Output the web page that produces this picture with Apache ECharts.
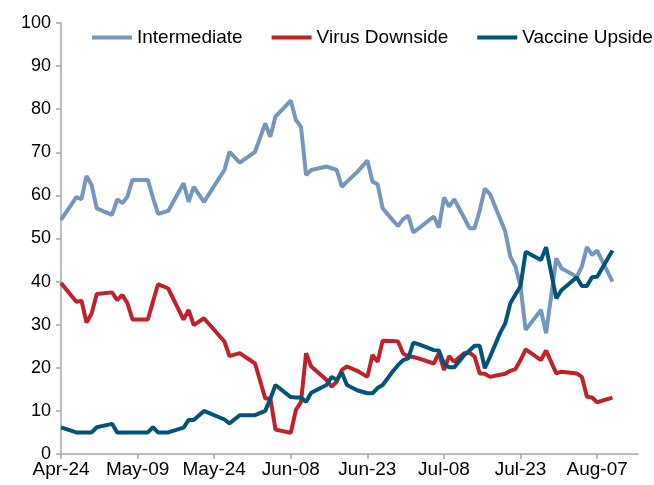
<!DOCTYPE html>
<html>
<head>
<meta charset="utf-8">
<script src="https://cdn.jsdelivr.net/npm/echarts@6/dist/echarts.min.js"></script>
<style>
  html, body { margin: 0; padding: 0; background: #fff; }
  #chart { width: 654px; height: 485px; }
</style>
</head>
<body>
<div id="chart"></div>
<script>
// poll dates (2020)
const dates = [
  '2020-04-24', '2020-04-27', '2020-04-28', '2020-04-29', '2020-04-30', '2020-05-01',
  '2020-05-04', '2020-05-05', '2020-05-06', '2020-05-07', '2020-05-08', '2020-05-11',
  '2020-05-12', '2020-05-13', '2020-05-15', '2020-05-18', '2020-05-19', '2020-05-20',
  '2020-05-22', '2020-05-26', '2020-05-27', '2020-05-29', '2020-06-01', '2020-06-03',
  '2020-06-04', '2020-06-05', '2020-06-08', '2020-06-09', '2020-06-10', '2020-06-11',
  '2020-06-12', '2020-06-15', '2020-06-16', '2020-06-17', '2020-06-18', '2020-06-19',
  '2020-06-21', '2020-06-23', '2020-06-24', '2020-06-25', '2020-06-26', '2020-06-28',
  '2020-06-29', '2020-06-30', '2020-07-01', '2020-07-02', '2020-07-03', '2020-07-06',
  '2020-07-07', '2020-07-08', '2020-07-09', '2020-07-10', '2020-07-12', '2020-07-13',
  '2020-07-14', '2020-07-15', '2020-07-16', '2020-07-17', '2020-07-19', '2020-07-20',
  '2020-07-21', '2020-07-22', '2020-07-23', '2020-07-24', '2020-07-27', '2020-07-28',
  '2020-07-30', '2020-07-31', '2020-08-03', '2020-08-04', '2020-08-05', '2020-08-06',
  '2020-08-07', '2020-08-10'
]

const intermediate = [
  54.3, 59.6, 59.1, 64.5, 62.4, 57.0,
  55.5, 59.1, 58.2, 59.7, 63.6, 63.6,
  59.5, 55.7, 56.4, 62.8, 58.5, 62.0,
  58.5, 65.9, 70.1, 67.6, 70.1, 76.7,
  73.6, 78.3, 82.0, 77.5, 75.9, 64.7,
  65.9, 66.7, 66.3, 65.9, 62.0, 63.2,
  65.4, 68.1, 63.2, 62.6, 57.0, 54.2,
  52.9, 54.5, 55.3, 51.4, 52.3, 55.1,
  52.5, 59.5, 57.4, 59.1, 54.7, 52.4,
  52.4, 56.5, 61.6, 60.3, 54.6, 51.6,
  45.8, 43.5, 38.8, 28.8, 33.4, 28.0,
  45.4, 43.1, 41.1, 43.5, 48.0, 46.2,
  47.2, 40.0
]

const virusDownside = [
  39.7, 35.3, 35.6, 30.5, 32.6, 37.1,
  37.5, 35.7, 36.9, 35.0, 31.2, 31.2,
  35.3, 39.4, 38.4, 31.2, 33.4, 29.9,
  31.5, 26.1, 22.7, 23.4, 21.0, 12.9,
  12.9, 5.7, 4.9, 10.2, 12.1, 23.4,
  20.3, 17.2, 15.6, 16.8, 19.5, 20.3,
  19.3, 17.9, 23.0, 21.4, 26.3, 26.2,
  26.1, 23.3, 22.7, 22.5, 22.2, 21.0,
  23.4, 19.5, 22.7, 21.4, 23.4, 23.5,
  22.6, 18.7, 18.6, 17.9, 18.4, 18.6,
  19.3, 19.7, 21.8, 24.3, 21.8, 24.0,
  18.7, 19.1, 18.7, 17.9, 13.3, 13.1,
  12.0, 13.1
]

const vaccineUpside = [
  6.2, 5.0, 5.0, 5.0, 5.0, 6.2,
  7.0, 5.0, 5.0, 5.0, 5.0, 5.0,
  6.2, 5.0, 5.0, 6.1, 7.9, 7.9,
  10.0, 8.0, 7.1, 9.0, 9.0, 10.0,
  12.8, 16.0, 13.2, 13.1, 13.1, 12.1,
  14.2, 16.0, 17.9, 17.2, 18.9, 16.0,
  14.8, 14.1, 14.1, 15.3, 16.0, 19.2,
  20.6, 21.8, 22.2, 25.8, 25.5, 24.1,
  24.0, 21.0, 20.1, 20.1, 23.0, 24.0,
  25.1, 25.1, 19.9, 22.5, 28.1, 30.3,
  35.0, 37.0, 39.0, 46.9, 45.0, 48.0,
  36.1, 38.0, 41.0, 39.0, 39.0, 41.0,
  41.1, 47.2
]

const axisStart = '2020-04-24'
const axisEnd = '2020-08-15'
const tickDays = [0, 15, 30, 45, 60, 75, 90, 105]
const monthNames = ['Jan', 'Feb', 'Mar', 'Apr', 'May', 'Jun', 'Jul', 'Aug', 'Sep', 'Oct', 'Nov', 'Dec']

const DAY = 86400000
const t0 = Date.parse(axisStart)
const dayOf = (d) => Math.round((Date.parse(d) - t0) / DAY)

const dateLabel = (v) => {
  const d = new Date(t0 + v * DAY)
  const dd = String(d.getUTCDate()).padStart(2, '0')
  return monthNames[d.getUTCMonth()] + '-' + dd
}

const pair = (vals) => dates.map((d, i) => [dayOf(d), vals[i]])

const font = 'Liberation Sans, Arial, sans-serif'
const axisGrey = '#a6a6a6'

const chart = echarts.init(document.getElementById('chart'), null, { renderer: 'canvas' })

chart.setOption({
  animation: false,
  textStyle: { fontFamily: font },
  color: ['#7596bd', '#c0222b', '#005479'],
  legend: {
    top: 28,
    left: 92,
    width: 900,
    padding: 0,
    icon: 'rect',
    itemWidth: 40,
    itemHeight: 4,
    itemGap: 29,
    textStyle: { fontSize: 19, color: '#000', fontFamily: font },
    data: ['Intermediate', 'Virus Downside', 'Vaccine Upside']
  },
  grid: { left: 61, right: 16, top: 23, bottom: 31, containLabel: false },
  xAxis: {
    type: 'value',
    min: 0,
    max: dayOf(axisEnd),
    axisLine: { lineStyle: { color: axisGrey, width: 1.5 } },
    axisTick: { show: true, length: 5, customValues: tickDays, lineStyle: { color: axisGrey, width: 1.5 } },
    axisLabel: {
      customValues: tickDays,
      formatter: dateLabel,
      fontSize: 19,
      color: '#000',
      margin: 6,
      fontFamily: font
    },
    splitLine: { show: false }
  },
  yAxis: {
    type: 'value',
    min: 0,
    max: 100,
    interval: 10,
    axisLine: { show: true, lineStyle: { color: axisGrey, width: 1.5 } },
    axisTick: { show: true, length: 5, lineStyle: { color: axisGrey, width: 1.5 } },
    axisLabel: { fontSize: 18, color: '#000', margin: 10, fontFamily: font },
    splitLine: { show: false }
  },
  series: [
    {
      name: 'Intermediate',
      type: 'line',
      symbol: 'none',
      data: pair(intermediate),
      lineStyle: { width: 4 }
    },
    {
      name: 'Virus Downside',
      type: 'line',
      symbol: 'none',
      data: pair(virusDownside),
      lineStyle: { width: 4 }
    },
    {
      name: 'Vaccine Upside',
      type: 'line',
      symbol: 'none',
      data: pair(vaccineUpside),
      lineStyle: { width: 4 }
    }
  ]
})
</script>
</body>
</html>
